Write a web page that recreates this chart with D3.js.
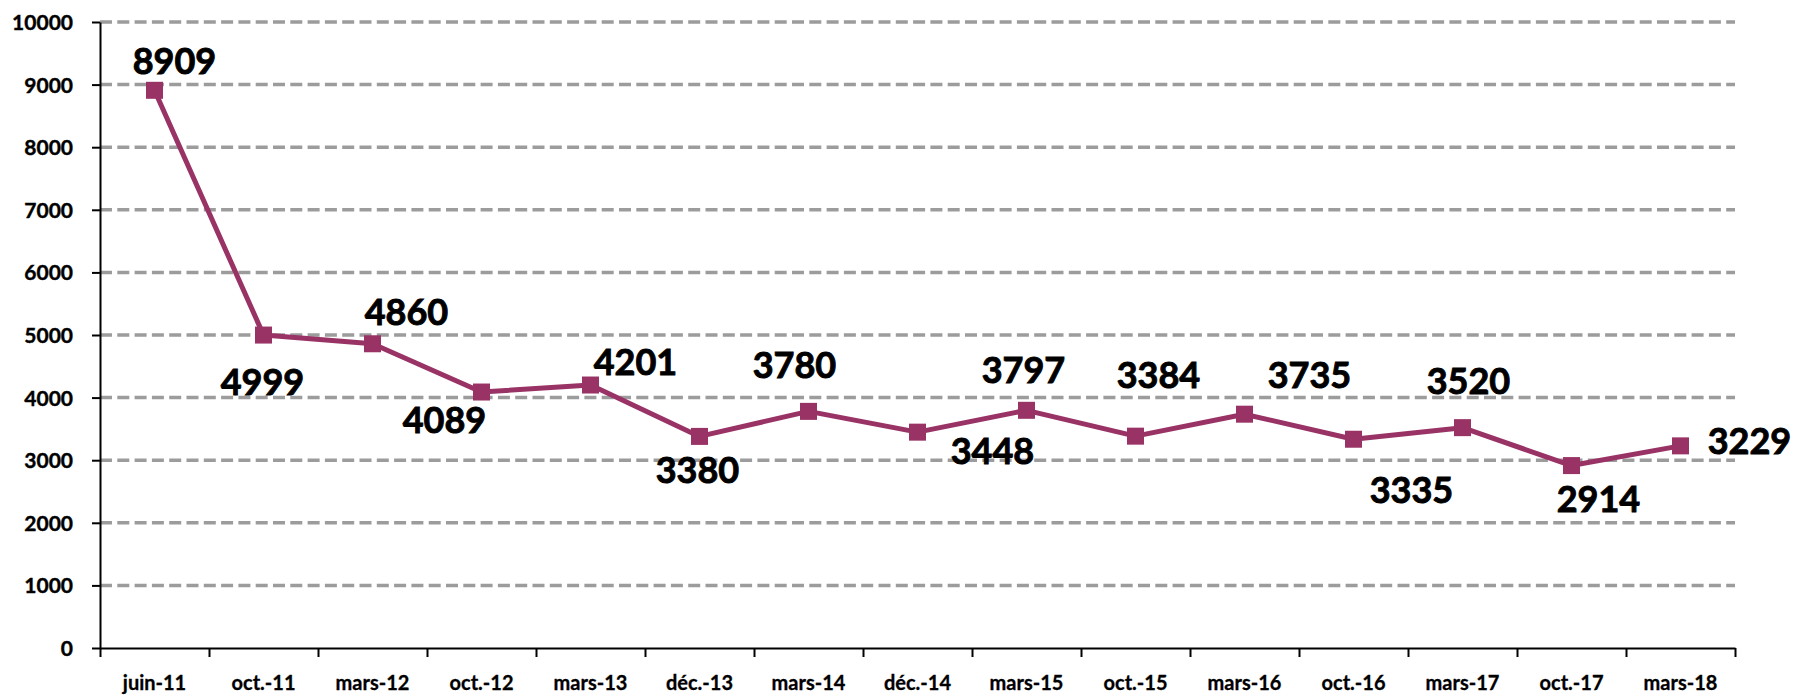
<!DOCTYPE html>
<html>
<head>
<meta charset="utf-8">
<script src="https://cdn.jsdelivr.net/npm/d3@7"></script>
<style>
  body { margin: 0; background: #fff; }
  svg text { font-family: Lato, "Open Sans", sans-serif; font-weight: 700; fill: #000; }
</style>
</head>
<body>
<svg id="chart"></svg>
<script>
const categories = ['juin-11', 'oct.-11', 'mars-12', 'oct.-12', 'mars-13', 'déc.-13', 'mars-14', 'déc.-14',
    'mars-15', 'oct.-15', 'mars-16', 'oct.-16', 'mars-17', 'oct.-17', 'mars-18'];
const values = [8909, 4999, 4860, 4089, 4201, 3380, 3780, 3448, 3797, 3384, 3735, 3335, 3520, 2914, 3229];
const yTicks = [0, 1000, 2000, 3000, 4000, 5000, 6000, 7000, 8000, 9000, 10000];

// where each data label sits relative to its point (hand placed, like in the original)
const labelOffset = [[20, -29], [-1, 47], [34, -32], [-37, 28], [45, -23], [-2, 34], [-14, -46], [75, 19],
    [-3, -40], [23, -61], [65, -39], [58, 51], [6, -47], [27, 33], [69, -5]];

const width = 1795, height = 697;
const margin = { left: 100, right: 60, top: 22, bottom: 49 };
const color = '#993366';

const svg = d3.select('#chart').attr('width', width).attr('height', height);

const x = d3.scaleBand()
    .domain(categories)
    .range([margin.left, width - margin.right])
    .padding(0);

const y = d3.scaleLinear()
    .domain([0, 10000])
    .range([height - margin.bottom, margin.top]);

// grid
svg.append('g')
    .selectAll('line')
    .data(yTicks.filter(d => d > 0))
    .join('line')
    .attr('x1', margin.left)
    .attr('x2', width - margin.right)
    .attr('y1', d => y(d))
    .attr('y2', d => y(d))
    .attr('stroke', '#9c9c9c')
    .attr('stroke-width', 3.5)
    .attr('stroke-dasharray', '12,5.3');

// y axis
const yAxis = svg.append('g')
    .attr('transform', `translate(${margin.left},0)`)
    .call(d3.axisLeft(y).tickValues(yTicks).tickFormat(d3.format('d')).tickSize(8).tickPadding(19).tickSizeOuter(0));
yAxis.selectAll('path, line').attr('stroke', '#000').attr('stroke-width', 2);
yAxis.selectAll('text').style('font-size', '21px').attr('dy', '0.36em')
    .attr('stroke', '#000').attr('stroke-width', 0.4);

// x axis: ticks between categories, labels under each category
const xEdge = d3.scaleLinear().domain([0, categories.length]).range(x.range());
const xTickAxis = svg.append('g')
    .attr('transform', `translate(0,${height - margin.bottom})`)
    .call(d3.axisBottom(xEdge).tickValues(d3.range(categories.length + 1)).tickSize(9).tickSizeOuter(0).tickFormat(''));
xTickAxis.selectAll('path, line').attr('stroke', '#000').attr('stroke-width', 2);

const xLabels = svg.append('g')
    .attr('transform', `translate(0,${height - margin.bottom})`)
    .call(d3.axisBottom(x).tickSize(0).tickPadding(28));
xLabels.select('.domain').remove();
xLabels.selectAll('text').style('font-size', '20px').attr('dy', '0.71em')
    .attr('stroke', '#000').attr('stroke-width', 0.3);

const px = d => x(d) + x.bandwidth() / 2;
const points = categories.map((c, i) => ({ c, v: values[i], i }));

// line
svg.append('path')
    .datum(points)
    .attr('fill', 'none')
    .attr('stroke', color)
    .attr('stroke-width', 5)
    .attr('stroke-linejoin', 'round')
    .attr('d', d3.line().x(d => px(d.c)).y(d => y(d.v)));

// markers
const m = 17;
svg.append('g')
    .selectAll('rect')
    .data(points)
    .join('rect')
    .attr('x', d => px(d.c) - m / 2)
    .attr('y', d => y(d.v) - m / 2)
    .attr('width', m)
    .attr('height', m)
    .attr('fill', color);

// data labels
svg.append('g')
    .selectAll('text')
    .data(points)
    .join('text')
    .attr('text-anchor', 'middle')
    .attr('x', d => px(d.c) + labelOffset[d.i][0])
    .attr('y', d => y(d.v) + labelOffset[d.i][1] + 13)
    .style('font-size', '36px')
    .attr('stroke', '#000')
    .attr('stroke-width', 0.9)
    .text(d => d.v);
</script>
</body>
</html>
